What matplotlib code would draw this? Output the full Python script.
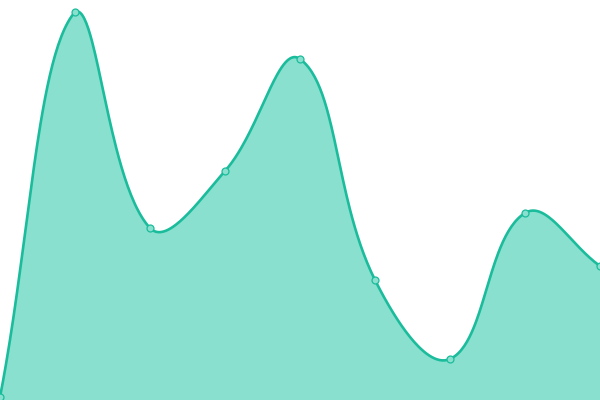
import numpy as np
import matplotlib
matplotlib.use("Agg")
import matplotlib.pyplot as plt

labels = ["1", "2", "3", "4", "5", "6", "7", "8", "9"]
values = [3, 388, 172, 229, 341, 120, 41, 187, 134]

line_col = "#1abc9c"
fill_col = "#8ae0cf"

W, H = 600, 400
ymax = 400

# to pixel space (chart.js style spline is computed on screen coords)
n = len(values)
px = np.array([i * W / (n - 1) for i in range(n)], dtype=float)
py = np.array([H - v * H / ymax for v in values], dtype=float)

t = 0.4
cp_prev = []
cp_next = []
for i in range(n):
    cx, cy = px[i], py[i]
    pxp, pyp = (px[i - 1], py[i - 1]) if i > 0 else (cx, cy)
    pxn, pyn = (px[i + 1], py[i + 1]) if i < n - 1 else (cx, cy)
    d01 = np.hypot(cx - pxp, cy - pyp)
    d12 = np.hypot(pxn - cx, pyn - cy)
    tot = d01 + d12
    s01 = d01 / tot if tot else 0
    s12 = d12 / tot if tot else 0
    fa, fb = t * s01, t * s12
    a = (cx - fa * (pxn - pxp), cy - fa * (pyn - pyp))
    b = (cx + fb * (pxn - pxp), cy + fb * (pyn - pyp))
    a = (min(max(a[0], 0), W), min(max(a[1], 0), H))
    b = (min(max(b[0], 0), W), min(max(b[1], 0), H))
    cp_prev.append(a)
    cp_next.append(b)

xs, ys = [], []
tt = np.linspace(0, 1, 60)
for i in range(n - 1):
    p0 = np.array([px[i], py[i]])
    p1 = np.array(cp_next[i])
    p2 = np.array(cp_prev[i + 1])
    p3 = np.array([px[i + 1], py[i + 1]])
    for u in tt:
        pt = (1 - u) ** 3 * p0 + 3 * (1 - u) ** 2 * u * p1 + 3 * (1 - u) * u ** 2 * p2 + u ** 3 * p3
        xs.append(pt[0])
        ys.append(pt[1])
xs = np.array(xs)
ys = np.array(ys)

fig = plt.figure(figsize=(6, 4), dpi=100)
ax = fig.add_axes([0, 0, 1, 1])
ax.set_xlim(0, W)
ax.set_ylim(H, 0)
ax.axis("off")

ax.fill_between(xs, ys, H, color=fill_col, lw=0)
ax.plot(xs, ys, color=line_col, lw=1.9, solid_capstyle="round")
ax.plot(px, py, "o", ms=5, mfc=fill_col, mec=line_col, mew=0.9, clip_on=False)

fig.savefig("out.png", dpi=100)
